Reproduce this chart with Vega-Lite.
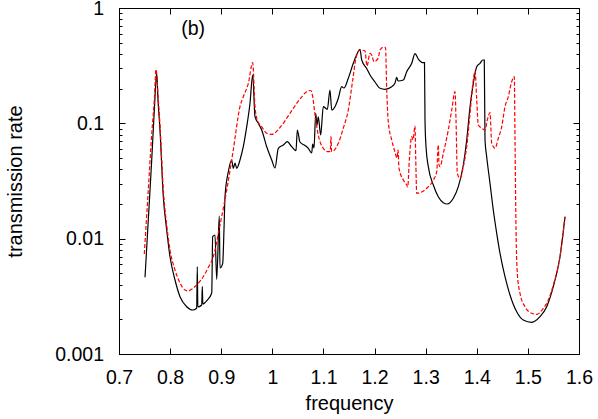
{
  "$schema": "https://vega.github.io/schema/vega-lite/v6.json",
  "width": 460,
  "height": 346,
  "autosize": {"type": "none"},
  "padding": {"left": 119, "top": 8, "right": 19, "bottom": 65},
  "background": "white",
  "config": {
    "view": {"stroke": "black", "strokeWidth": 1},
    "font": "Liberation Sans",
    "axis": {
      "grid": false,
      "domainColor": "black",
      "domainWidth": 1,
      "tickColor": "black",
      "tickWidth": 1,
      "labelColor": "black",
      "titleColor": "black",
      "labelFont": "Liberation Sans",
      "titleFont": "Liberation Sans",
      "labelFontSize": 19.5,
      "titleFontSize": 20,
      "titleFontWeight": "normal"
    }
  },
  "datasets": {
    "black": [
      {"frequency":0.7509,"rate":0.004623},{"frequency":0.7573,"rate":0.01451},{"frequency":0.7640,"rate":0.04808},{"frequency":0.7691,"rate":0.1305},{"frequency":0.7738,"rate":0.2716},{"frequency":0.7763,"rate":0.1594},{"frequency":0.7802,"rate":0.08753},{"frequency":0.7867,"rate":0.02311},{"frequency":0.7933,"rate":0.01189},{"frequency":0.7998,"rate":0.006973},{"frequency":0.8096,"rate":0.004380},{"frequency":0.8194,"rate":0.003138},{"frequency":0.8325,"rate":0.002570},{"frequency":0.8442,"rate":0.002406},{"frequency":0.8520,"rate":0.002489},{"frequency":0.8532,"rate":0.005711},{"frequency":0.8542,"rate":0.002555},{"frequency":0.8618,"rate":0.002659},{"frequency":0.8630,"rate":0.003832},{"frequency":0.8640,"rate":0.002713},{"frequency":0.8728,"rate":0.002938},{"frequency":0.8814,"rate":0.003379},{"frequency":0.8833,"rate":0.01040},{"frequency":0.8878,"rate":0.01076},{"frequency":0.8912,"rate":0.004441},{"frequency":0.8962,"rate":0.01572},{"frequency":0.8976,"rate":0.005566},{"frequency":0.9029,"rate":0.006112},{"frequency":0.9054,"rate":0.01189},{"frequency":0.9074,"rate":0.02311},{"frequency":0.9139,"rate":0.03806},{"frequency":0.9205,"rate":0.04808},{"frequency":0.9236,"rate":0.04074},{"frequency":0.9270,"rate":0.04529},{"frequency":0.9303,"rate":0.04074},{"frequency":0.9367,"rate":0.04808},{"frequency":0.9432,"rate":0.06272},{"frequency":0.9499,"rate":0.09349},{"frequency":0.9563,"rate":0.1492},{"frequency":0.9616,"rate":0.2625},{"frequency":0.9661,"rate":0.1141},{"frequency":0.9726,"rate":0.1001},{"frequency":0.9792,"rate":0.08753},{"frequency":0.9890,"rate":0.06272},{"frequency":0.9988,"rate":0.04808},{"frequency":1.0052,"rate":0.04099},{"frequency":1.0117,"rate":0.06075},{"frequency":1.0215,"rate":0.06489},{"frequency":1.0293,"rate":0.06929},{"frequency":1.0379,"rate":0.06272},{"frequency":1.0463,"rate":0.05790},{"frequency":1.0489,"rate":0.08753},{"frequency":1.0541,"rate":0.06887},{"frequency":1.0639,"rate":0.06425},{"frequency":1.0704,"rate":0.06075},{"frequency":1.0770,"rate":0.05530},{"frequency":1.0790,"rate":0.06618},{"frequency":1.0815,"rate":0.06111},{"frequency":1.0849,"rate":0.1222},{"frequency":1.0874,"rate":0.09672},{"frequency":1.0899,"rate":0.1141},{"frequency":1.0946,"rate":0.07921},{"frequency":1.0997,"rate":0.1394},{"frequency":1.1076,"rate":0.1323},{"frequency":1.1128,"rate":0.1945},{"frequency":1.1162,"rate":0.1305},{"frequency":1.1226,"rate":0.1394},{"frequency":1.1291,"rate":0.1648},{"frequency":1.1357,"rate":0.2078},{"frequency":1.1402,"rate":0.2025},{"frequency":1.1486,"rate":0.2457},{"frequency":1.1584,"rate":0.3315},{"frequency":1.1662,"rate":0.4048},{"frequency":1.1715,"rate":0.4384},{"frequency":1.1749,"rate":0.3540},{"frequency":1.1846,"rate":0.2988},{"frequency":1.1911,"rate":0.2625},{"frequency":1.2009,"rate":0.2283},{"frequency":1.2107,"rate":0.2012},{"frequency":1.2204,"rate":0.1973},{"frequency":1.2336,"rate":0.2078},{"frequency":1.2400,"rate":0.2238},{"frequency":1.2433,"rate":0.2507},{"frequency":1.2459,"rate":0.2328},{"frequency":1.2563,"rate":0.2375},{"frequency":1.2629,"rate":0.2804},{"frequency":1.2727,"rate":0.3315},{"frequency":1.2791,"rate":0.4016},{"frequency":1.2856,"rate":0.3612},{"frequency":1.2954,"rate":0.3355},{"frequency":1.2977,"rate":0.3355},{"frequency":1.2987,"rate":0.1069},{"frequency":1.3007,"rate":0.06272},{"frequency":1.3052,"rate":0.04207},{"frequency":1.3150,"rate":0.02920},{"frequency":1.3247,"rate":0.02311},{"frequency":1.3345,"rate":0.02050},{"frequency":1.3423,"rate":0.01997},{"frequency":1.3541,"rate":0.02239},{"frequency":1.3639,"rate":0.02822},{"frequency":1.3737,"rate":0.04352},{"frequency":1.3803,"rate":0.07167},{"frequency":1.3868,"rate":0.1394},{"frequency":1.3932,"rate":0.2224},{"frequency":1.3999,"rate":0.3097},{"frequency":1.4063,"rate":0.3315},{"frequency":1.4116,"rate":0.3540},{"frequency":1.4147,"rate":0.3540},{"frequency":1.4161,"rate":0.07167},{"frequency":1.4194,"rate":0.05135},{"frequency":1.4259,"rate":0.03020},{"frequency":1.4323,"rate":0.01772},{"frequency":1.4390,"rate":0.01113},{"frequency":1.4455,"rate":0.007462},{"frequency":1.4552,"rate":0.004679},{"frequency":1.4650,"rate":0.003247},{"frequency":1.4781,"rate":0.002326},{"frequency":1.4910,"rate":0.001971},{"frequency":1.5075,"rate":0.001883},{"frequency":1.5237,"rate":0.002105},{"frequency":1.5368,"rate":0.002570},{"frequency":1.5497,"rate":0.003832},{"frequency":1.5628,"rate":0.006973},{"frequency":1.5726,"rate":0.01550}
    ],
    "red": [
      {"frequency":0.7495,"rate":0.007362},{"frequency":0.7567,"rate":0.02391},{"frequency":0.7646,"rate":0.08753},{"frequency":0.7691,"rate":0.1594},{"frequency":0.7724,"rate":0.2941},{"frequency":0.7763,"rate":0.1761},{"frequency":0.7802,"rate":0.09672},{"frequency":0.7867,"rate":0.02642},{"frequency":0.7933,"rate":0.01313},{"frequency":0.7998,"rate":0.007975},{"frequency":0.8096,"rate":0.005351},{"frequency":0.8194,"rate":0.004125},{"frequency":0.8291,"rate":0.003589},{"frequency":0.8356,"rate":0.003518},{"frequency":0.8428,"rate":0.003661},{"frequency":0.8520,"rate":0.003963},{"frequency":0.8644,"rate":0.004652},{"frequency":0.8741,"rate":0.005566},{"frequency":0.8845,"rate":0.006973},{"frequency":0.8976,"rate":0.01313},{"frequency":0.9107,"rate":0.02642},{"frequency":0.9236,"rate":0.05871},{"frequency":0.9367,"rate":0.1394},{"frequency":0.9432,"rate":0.1702},{"frequency":0.9530,"rate":0.2224},{"frequency":0.9616,"rate":0.3355},{"frequency":0.9661,"rate":0.1394},{"frequency":0.9706,"rate":0.1069},{"frequency":0.9792,"rate":0.09349},{"frequency":0.9890,"rate":0.08195},{"frequency":0.9988,"rate":0.08032},{"frequency":1.0150,"rate":0.09201},{"frequency":1.0346,"rate":0.1222},{"frequency":1.0541,"rate":0.1626},{"frequency":1.0672,"rate":0.1880},{"frequency":1.0751,"rate":0.1926},{"frequency":1.0790,"rate":0.1702},{"frequency":1.0835,"rate":0.1181},{"frequency":1.0899,"rate":0.07921},{"frequency":1.0997,"rate":0.06075},{"frequency":1.1095,"rate":0.05675},{"frequency":1.1134,"rate":0.05697},{"frequency":1.1148,"rate":0.07657},{"frequency":1.1160,"rate":0.05697},{"frequency":1.1193,"rate":0.05755},{"frequency":1.1291,"rate":0.06711},{"frequency":1.1389,"rate":0.09111},{"frequency":1.1486,"rate":0.1305},{"frequency":1.1573,"rate":0.2375},{"frequency":1.1637,"rate":0.3685},{"frequency":1.1715,"rate":0.4324},{"frequency":1.1813,"rate":0.4238},{"frequency":1.1852,"rate":0.3142},{"frequency":1.1911,"rate":0.4048},{"frequency":1.1944,"rate":0.3913},{"frequency":1.1989,"rate":0.3423},{"frequency":1.2073,"rate":0.3685},{"frequency":1.2107,"rate":0.4324},{"frequency":1.2171,"rate":0.4562},{"frequency":1.2214,"rate":0.4544},{"frequency":1.2238,"rate":0.1945},{"frequency":1.2269,"rate":0.1027},{"frequency":1.2336,"rate":0.07167},{"frequency":1.2400,"rate":0.05641},{"frequency":1.2439,"rate":0.05005},{"frequency":1.2459,"rate":0.05871},{"frequency":1.2478,"rate":0.04099},{"frequency":1.2563,"rate":0.03226},{"frequency":1.2629,"rate":0.02920},{"frequency":1.2649,"rate":0.02805},{"frequency":1.2680,"rate":0.04808},{"frequency":1.2727,"rate":0.07657},{"frequency":1.2752,"rate":0.07167},{"frequency":1.2791,"rate":0.09480},{"frequency":1.2805,"rate":0.05135},{"frequency":1.2825,"rate":0.02474},{"frequency":1.2889,"rate":0.02504},{"frequency":1.3020,"rate":0.02733},{"frequency":1.3150,"rate":0.03226},{"frequency":1.3216,"rate":0.03806},{"frequency":1.3247,"rate":0.06489},{"frequency":1.3261,"rate":0.04352},{"frequency":1.3281,"rate":0.04207},{"frequency":1.3345,"rate":0.05496},{"frequency":1.3443,"rate":0.08753},{"frequency":1.3510,"rate":0.1305},{"frequency":1.3574,"rate":0.1880},{"frequency":1.3594,"rate":0.1069},{"frequency":1.3619,"rate":0.03686},{"frequency":1.3672,"rate":0.03337},{"frequency":1.3737,"rate":0.04207},{"frequency":1.3803,"rate":0.06272},{"frequency":1.3868,"rate":0.1222},{"frequency":1.3932,"rate":0.2375},{"frequency":1.3966,"rate":0.2843},{"frequency":1.3999,"rate":0.1594},{"frequency":1.4030,"rate":0.09672},{"frequency":1.4097,"rate":0.09057},{"frequency":1.4161,"rate":0.08753},{"frequency":1.4206,"rate":0.1069},{"frequency":1.4259,"rate":0.1237},{"frequency":1.4292,"rate":0.06711},{"frequency":1.4357,"rate":0.06075},{"frequency":1.4421,"rate":0.07418},{"frequency":1.4488,"rate":0.09349},{"frequency":1.4552,"rate":0.1394},{"frequency":1.4617,"rate":0.1702},{"frequency":1.4683,"rate":0.2296},{"frequency":1.4734,"rate":0.2537},{"frequency":1.4748,"rate":0.07167},{"frequency":1.4768,"rate":0.01189},{"frequency":1.4793,"rate":0.005007},{"frequency":1.4846,"rate":0.003359},{"frequency":1.4944,"rate":0.002570},{"frequency":1.5075,"rate":0.002253},{"frequency":1.5173,"rate":0.002209},{"frequency":1.5302,"rate":0.002489},{"frequency":1.5400,"rate":0.002938},{"frequency":1.5497,"rate":0.003963},{"frequency":1.5628,"rate":0.006973},{"frequency":1.5726,"rate":0.01550}
    ]
  },
  "layer": [
    {
      "data": {"name": "black"},
      "mark": {"type": "line", "color": "black", "strokeWidth": 1.2, "interpolate": "monotone"},
      "encoding": {
        "x": {
          "field": "frequency", "type": "quantitative",
          "scale": {"domain": [0.7, 1.6], "nice": false, "zero": false},
          "axis": {
            "orient": "bottom", "title": "frequency",
            "values": [0.7, 0.8, 0.9, 1, 1.1, 1.2, 1.3, 1.4, 1.5, 1.6],
            "format": "~g", "labelFlush": false, "labelOverlap": false,
            "tickSize": -6, "labelPadding": 20, "titlePadding": 7
          }
        },
        "y": {
          "field": "rate", "type": "quantitative",
          "scale": {"type": "log", "domain": [0.001, 1], "nice": false},
          "axis": {
            "orient": "left", "title": "transmission rate",
            "values": [0.001,0.002,0.003,0.004,0.005,0.006,0.007,0.008,0.009,0.01,0.02,0.03,0.04,0.05,0.06,0.07,0.08,0.09,0.1,0.2,0.3,0.4,0.5,0.6,0.7,0.8,0.9,1],
            "tickSize": {"condition": {"test": "abs(log(datum.value)/LN10 - round(log(datum.value)/LN10)) < 0.001", "value": -6}, "value": -3},
            "labelExpr": "abs(log(datum.value)/LN10 - round(log(datum.value)/LN10)) < 0.001 ? format(datum.value, '~g') : ''",
            "labelOverlap": false, "labelPadding": 21.5, "titlePadding": 29
          }
        }
      }
    },
    {
      "data": {"name": "red"},
      "mark": {"type": "line", "color": "#ff0000", "strokeWidth": 1.2, "strokeDash": [4, 2], "interpolate": "monotone"},
      "encoding": {
        "x": {
          "field": "frequency", "type": "quantitative",
          "scale": {"domain": [0.7, 1.6], "nice": false, "zero": false},
          "axis": {
            "orient": "top", "title": null, "labels": false,
            "values": [0.7, 0.8, 0.9, 1, 1.1, 1.2, 1.3, 1.4, 1.5, 1.6],
            "tickSize": -6
          }
        },
        "y": {
          "field": "rate", "type": "quantitative",
          "scale": {"type": "log", "domain": [0.001, 1], "nice": false},
          "axis": {
            "orient": "right", "title": null, "labels": false,
            "values": [0.001,0.002,0.003,0.004,0.005,0.006,0.007,0.008,0.009,0.01,0.02,0.03,0.04,0.05,0.06,0.07,0.08,0.09,0.1,0.2,0.3,0.4,0.5,0.6,0.7,0.8,0.9,1],
            "tickSize": {"condition": {"test": "abs(log(datum.value)/LN10 - round(log(datum.value)/LN10)) < 0.001", "value": -6}, "value": -3}
          }
        }
      }
    },
    {
      "data": {"values": [{"frequency": 0.845, "rate": 0.657, "label": "(b)"}]},
      "mark": {"type": "text", "fontSize": 19.5, "font": "Liberation Sans", "color": "black"},
      "encoding": {
        "x": {"field": "frequency", "type": "quantitative", "axis": null},
        "y": {"field": "rate", "type": "quantitative", "scale": {"type": "log"}, "axis": null},
        "text": {"field": "label"}
      }
    }
  ],
  "resolve": {"axis": {"x": "independent", "y": "independent"}}
}
